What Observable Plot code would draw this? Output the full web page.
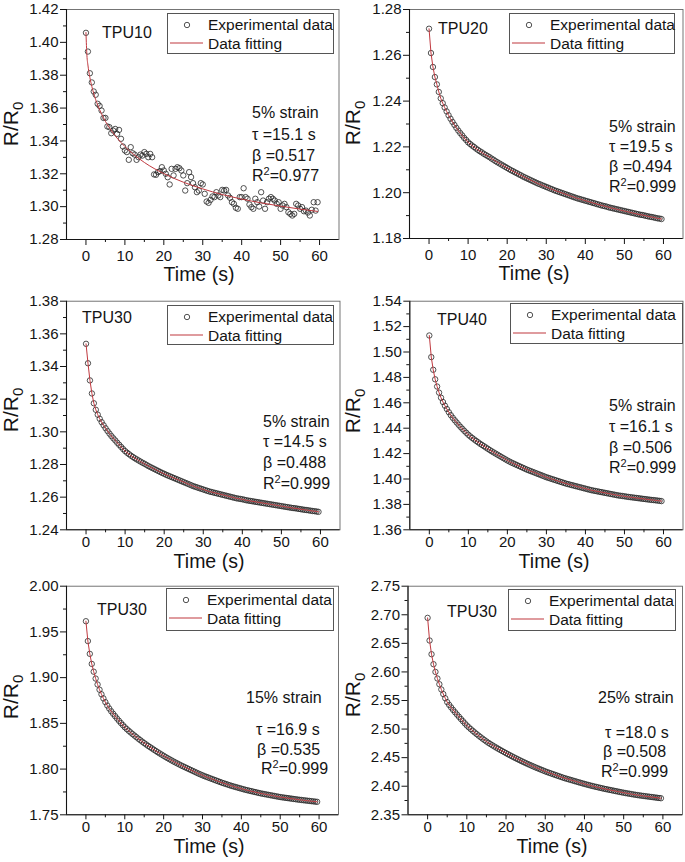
<!DOCTYPE html>
<html><head><meta charset="utf-8">
<script src="https://cdn.jsdelivr.net/npm/d3@7"></script>
<script src="https://cdn.jsdelivr.net/npm/@observablehq/plot@0.6"></script>
<style>
body{margin:0;background:#fff;}
#wrap{position:relative;width:685px;height:862px;overflow:hidden;background:#fff;}
.panel{position:absolute;}
</style></head><body><div id="wrap"></div>
<script>
// ---------------- data ----------------
const time = [0,0.5,1,1.5,2,2.5,3,3.5,4,4.5,5,5.5,6,6.5,7,7.5,8,8.5,9,9.5,10,10.5,11,11.5,12,12.5,13,13.5,14,14.5,15,15.5,16,16.5,17,17.5,18,18.5,19,19.5,20,20.5,21,21.5,22,22.5,23,23.5,24,24.5,25,25.5,26,26.5,27,27.5,28,28.5,29,29.5,30,30.5,31,31.5,32,32.5,33,33.5,34,34.5,35,35.5,36,36.5,37,37.5,38,38.5,39,39.5,40,40.5,41,41.5,42,42.5,43,43.5,44,44.5,45,45.5,46,46.5,47,47.5,48,48.5,49,49.5,50,50.5,51,51.5,52,52.5,53,53.5,54,54.5,55,55.5,56,56.5,57,57.5,58,58.5,59,59.5];

const tpu10Exp = [1.4058,1.3944,1.3812,1.3756,1.3701,1.3681,1.3626,1.3613,1.3585,1.3540,
1.3540,1.3488,1.3484,1.3447,1.3463,1.3473,1.3443,1.3467,1.3413,1.3366,
1.3342,1.3332,1.3285,1.3362,1.3325,1.3317,1.3285,1.3301,1.3317,1.3311,
1.3332,1.3321,1.3301,1.3321,1.3301,1.3196,1.3194,1.3210,1.3216,1.3240,
1.3220,1.3200,1.3179,1.3135,1.3230,1.3190,1.3230,1.3240,1.3234,1.3220,
1.3190,1.3098,1.3143,1.3210,1.3180,1.3143,1.3118,1.3088,1.3098,1.3143,
1.3135,1.3078,1.3031,1.3023,1.3041,1.3062,1.3058,1.3088,1.3068,1.3058,
1.3102,1.3098,1.3102,1.3068,1.3054,1.3027,1.3017,1.2993,1.2987,1.3058,
1.3058,1.3112,1.3058,1.3048,1.3013,1.2997,1.2987,1.3048,1.3027,1.3001,
1.3088,1.3037,1.2987,1.3027,1.3048,1.3058,1.3048,1.3037,1.3017,1.3027,
1.2987,1.3007,1.3017,1.2997,1.2966,1.2956,1.2946,1.2956,1.3017,1.3007,
1.2987,1.2997,1.2972,1.2976,1.2964,1.2946,1.2981,1.3027,1.2976,1.3027];
const tpu10FitTime = [0,0.25,0.5,1,1.5,2,3,4,5,6,8,10,12,15,20,25,30,35,40,45,50,55,59.5];
const tpu10Fit = [1.4060,1.3918,1.3862,1.3787,1.3732,1.3688,1.3619,1.3565,1.3519,1.3481,1.3417,1.3366,1.3323,1.3269,1.3201,1.3149,1.3108,1.3074,1.3046,1.3023,1.3003,1.2985,1.2971];

const tpu20Exp = [1.2716,1.2610,1.2549,1.2505,1.2473,1.2440,1.2412,1.2391,1.2372,1.2355,
1.2338,1.2323,1.2309,1.2296,1.2283,1.2271,1.2260,1.2250,1.2239,1.2230,
1.2220,1.2213,1.2206,1.2200,1.2193,1.2187,1.2181,1.2176,1.2170,1.2165,
1.2160,1.2155,1.2149,1.2144,1.2138,1.2133,1.2128,1.2123,1.2118,1.2113,
1.2108,1.2103,1.2098,1.2094,1.2089,1.2085,1.2080,1.2076,1.2071,1.2067,
1.2063,1.2059,1.2055,1.2051,1.2047,1.2043,1.2039,1.2036,1.2032,1.2029,
1.2025,1.2022,1.2018,1.2015,1.2011,1.2008,1.2005,1.2002,1.1999,1.1996,
1.1993,1.1990,1.1987,1.1984,1.1981,1.1978,1.1975,1.1973,1.1970,1.1968,
1.1965,1.1963,1.1960,1.1958,1.1955,1.1953,1.1950,1.1948,1.1945,1.1943,
1.1941,1.1939,1.1936,1.1934,1.1932,1.1930,1.1928,1.1926,1.1924,1.1922,
1.1920,1.1918,1.1916,1.1914,1.1912,1.1910,1.1908,1.1906,1.1904,1.1903,
1.1901,1.1899,1.1897,1.1895,1.1894,1.1892,1.1890,1.1888,1.1887,1.1885];

const tpu30s5Exp = [1.3539,1.3420,1.3315,1.3235,1.3175,1.3135,1.3105,1.3080,1.3059,1.3040,
1.3022,1.3005,1.2989,1.2974,1.2960,1.2947,1.2933,1.2920,1.2907,1.2894,
1.2882,1.2872,1.2863,1.2854,1.2846,1.2838,1.2831,1.2824,1.2817,1.2810,
1.2804,1.2797,1.2790,1.2784,1.2778,1.2772,1.2766,1.2760,1.2754,1.2748,
1.2743,1.2737,1.2732,1.2727,1.2722,1.2717,1.2712,1.2707,1.2702,1.2697,
1.2692,1.2687,1.2682,1.2677,1.2672,1.2667,1.2663,1.2659,1.2655,1.2651,
1.2647,1.2643,1.2639,1.2635,1.2632,1.2629,1.2626,1.2623,1.2620,1.2617,
1.2614,1.2611,1.2608,1.2605,1.2602,1.2599,1.2596,1.2593,1.2591,1.2589,
1.2587,1.2584,1.2581,1.2579,1.2577,1.2575,1.2573,1.2571,1.2569,1.2567,
1.2565,1.2563,1.2561,1.2559,1.2557,1.2555,1.2553,1.2551,1.2549,1.2547,
1.2545,1.2543,1.2541,1.2539,1.2537,1.2535,1.2533,1.2532,1.2530,1.2528,
1.2526,1.2524,1.2522,1.2521,1.2519,1.2517,1.2515,1.2514,1.2512,1.2510];

const tpu40Exp = [1.5130,1.4960,1.4860,1.4785,1.4728,1.4680,1.4640,1.4606,1.4577,1.4551,
1.4526,1.4503,1.4482,1.4463,1.4445,1.4427,1.4410,1.4394,1.4378,1.4363,
1.4348,1.4335,1.4323,1.4311,1.4300,1.4289,1.4278,1.4268,1.4258,1.4248,
1.4238,1.4228,1.4218,1.4209,1.4200,1.4191,1.4182,1.4173,1.4164,1.4155,
1.4146,1.4138,1.4130,1.4123,1.4116,1.4109,1.4102,1.4095,1.4088,1.4081,
1.4074,1.4068,1.4062,1.4056,1.4050,1.4044,1.4038,1.4032,1.4026,1.4020,
1.4014,1.4009,1.4004,1.3999,1.3994,1.3989,1.3984,1.3979,1.3974,1.3969,
1.3964,1.3960,1.3956,1.3952,1.3948,1.3944,1.3940,1.3936,1.3932,1.3928,
1.3924,1.3920,1.3916,1.3912,1.3909,1.3906,1.3903,1.3900,1.3897,1.3894,
1.3891,1.3888,1.3885,1.3882,1.3879,1.3876,1.3873,1.3870,1.3868,1.3866,
1.3864,1.3861,1.3859,1.3857,1.3855,1.3853,1.3851,1.3849,1.3847,1.3845,
1.3843,1.3841,1.3839,1.3837,1.3835,1.3834,1.3832,1.3830,1.3828,1.3826];

const tpu30s15Exp = [1.9617,1.9400,1.9260,1.9150,1.9065,1.8990,1.8925,1.8868,1.8818,1.8773,
1.8732,1.8695,1.8662,1.8632,1.8605,1.8579,1.8553,1.8528,1.8504,1.8481,
1.8458,1.8438,1.8419,1.8401,1.8383,1.8366,1.8349,1.8332,1.8316,1.8300,
1.8284,1.8269,1.8254,1.8240,1.8226,1.8212,1.8198,1.8184,1.8171,1.8158,
1.8145,1.8132,1.8120,1.8108,1.8096,1.8084,1.8073,1.8062,1.8051,1.8040,
1.8030,1.8020,1.8010,1.8000,1.7990,1.7980,1.7970,1.7960,1.7950,1.7941,
1.7932,1.7923,1.7915,1.7907,1.7899,1.7891,1.7883,1.7875,1.7867,1.7859,
1.7851,1.7844,1.7837,1.7830,1.7823,1.7816,1.7810,1.7804,1.7798,1.7792,
1.7786,1.7780,1.7774,1.7769,1.7764,1.7759,1.7754,1.7749,1.7744,1.7739,
1.7734,1.7730,1.7726,1.7722,1.7718,1.7714,1.7710,1.7706,1.7702,1.7698,
1.7694,1.7691,1.7688,1.7685,1.7682,1.7679,1.7676,1.7673,1.7670,1.7667,
1.7664,1.7662,1.7659,1.7657,1.7654,1.7652,1.7649,1.7647,1.7644,1.7642];

const tpu30s25Exp = [2.6946,2.6550,2.6310,2.6135,2.6000,2.5885,2.5785,2.5693,2.5613,2.5539,
2.5471,2.5423,2.5378,2.5335,2.5294,2.5254,2.5215,2.5176,2.5138,2.5100,
2.5063,2.5031,2.5000,2.4970,2.4941,2.4913,2.4886,2.4859,2.4833,2.4808,
2.4783,2.4760,2.4738,2.4717,2.4696,2.4676,2.4656,2.4636,2.4617,2.4598,
2.4579,2.4560,2.4542,2.4524,2.4506,2.4489,2.4472,2.4455,2.4438,2.4422,
2.4406,2.4390,2.4375,2.4360,2.4345,2.4330,2.4316,2.4302,2.4288,2.4274,
2.4260,2.4247,2.4235,2.4223,2.4211,2.4199,2.4187,2.4175,2.4163,2.4151,
2.4140,2.4130,2.4120,2.4110,2.4100,2.4090,2.4080,2.4070,2.4060,2.4050,
2.4040,2.4031,2.4022,2.4013,2.4004,2.3996,2.3988,2.3980,2.3972,2.3964,
2.3956,2.3949,2.3942,2.3935,2.3928,2.3921,2.3914,2.3907,2.3900,2.3893,
2.3886,2.3880,2.3874,2.3868,2.3862,2.3856,2.3850,2.3845,2.3840,2.3835,
2.3830,2.3826,2.3821,2.3817,2.3812,2.3808,2.3803,2.3799,2.3794,2.3790];

const xDomain = [-5, 65];
const xTicks = [0,10,20,30,40,50,60];
const xMinorTicks = [5,15,25,35,45,55];
const yTicks1 = [1.28,1.30,1.32,1.34,1.36,1.38,1.40,1.42];
const yTicks2 = [1.18,1.20,1.22,1.24,1.26,1.28];
const yTicks3 = [1.24,1.26,1.28,1.30,1.32,1.34,1.36,1.38];
const yTicks4 = [1.36,1.38,1.40,1.42,1.44,1.46,1.48,1.50,1.52,1.54];
const yTicks5 = [1.75,1.80,1.85,1.90,1.95,2.00];
const yTicks6 = [2.35,2.40,2.45,2.50,2.55,2.60,2.65,2.70,2.75];

const sampleNames = ["TPU10","TPU20","TPU30","TPU40","TPU30","TPU30"];
const annotations = [
  ["5% strain","τ =15.1 s","β =0.517","R²=0.977"],
  ["5% strain","τ =19.5 s","β =0.494","R²=0.999"],
  ["5% strain","τ =14.5 s","β =0.488","R²=0.999"],
  ["5% strain","τ =16.1 s","β =0.506","R²=0.999"],
  ["15% strain","τ =16.9 s","β =0.535","R²=0.999"],
  ["25% strain","τ =18.0 s","β =0.508","R²=0.999"]
];
const legendLabels = ["Experimental data","Data fitting"];
const xTitle = "Time (s)";

// ---------------- layout ----------------
const FONT = "'Liberation Sans', Arial, Helvetica, sans-serif";
const RED = "#c0393f";
const INK = "#141414";

const panels = [
  {exp: tpu10Exp, fitT: tpu10FitTime, fit: tpu10Fit, yTicks: yTicks1,
   left:0, top:0, w:342, h:285, ml:66, mr:3.5, mt:9, mb:46, xts:6, xtp:5,
   name:[102,38], annX:[252,252,252,252], annY:[118,140,161,181], xt:[199,281], yt:[17.5,124], leg:[167,13,166,40]},
  {exp: tpu20Exp, yTicks: yTicks2,
   left:342, top:0, w:343, h:285, ml:67, mr:2.5, mt:9, mb:47, xts:6, xtp:5,
   name:[438,33.5], annX:[609,609,609,609], annY:[132,152,172,192], xt:[534,280], yt:[359.5,123], leg:[509,13,165,40]},
  {exp: tpu30s5Exp, yTicks: yTicks3,
   left:0, top:285, w:342, h:285, ml:66, mr:2.5, mt:15.7, mb:40.7, xts:5, xtp:1.5,
   name:[82,323], annX:[263,263,263,263], annY:[427,447,468,489], xt:[209,568], yt:[17.5,410], leg:[167,305,166,39]},
  {exp: tpu40Exp, yTicks: yTicks4,
   left:342, top:285, w:343, h:285, ml:67.3, mr:2.5, mt:15.7, mb:40.7, xts:5, xtp:1.5,
   name:[437,325], annX:[609,609,609,609], annY:[411,432,453,473], xt:[554,568], yt:[359.5,411], leg:[510,303,172,40]},
  {exp: tpu30s15Exp, yTicks: yTicks5,
   left:0, top:570, w:342, h:292, ml:66, mr:4, mt:15.7, mb:47.7, xts:5, xtp:1.5,
   name:[97,615], annX:[246,256,257,261], annY:[703,735,755,774], xt:[209,853], yt:[18,697], leg:[166,588,167,42]},
  {exp: tpu30s25Exp, yTicks: yTicks6,
   left:342, top:570, w:343, h:292, ml:65.5, mr:3, mt:15.7, mb:47.7, xts:5, xtp:1.5,
   name:[447,617], annX:[598,605,603,601], annY:[703,738,757,777], xt:[552,853], yt:[359.5,695], leg:[508,589,167,41]}
];

const wrap = d3.select("#wrap");
const fmt2 = d3.format(".2f");

panels.forEach((p, i) => {
  const rows = time.map((t, k) => ({t, v: p.exp[k]}));
  const fitRows = p.fit ? p.fitT.map((t, k) => ({t, v: p.fit[k]})) : rows;
  const yDomain = [p.yTicks[0], p.yTicks[p.yTicks.length - 1]];
  const yMinor = p.yTicks.slice(1).map((d, k) => (d + p.yTicks[k]) / 2);
  const chart = Plot.plot({
    width: p.w, height: p.h,
    marginLeft: p.ml, marginRight: p.mr, marginTop: p.mt, marginBottom: p.mb,
    style: {fontFamily: FONT, fontSize: "15px", color: INK, background: "transparent", overflow: "visible"},
    x: {domain: xDomain},
    y: {domain: yDomain},
    marks: [
      Plot.frame({stroke: "#666", strokeWidth: 0.9}),
      Plot.ruleX([xDomain[0]], {stroke: INK, strokeWidth: 1.1}),
      Plot.ruleY([yDomain[0]], {stroke: INK, strokeWidth: 1.1}),
      Plot.axisX({ticks: xTicks, tickSize: p.xts, tickPadding: p.xtp, tickFormat: d => String(d), label: null, fontSize: 15}),
      Plot.axisX({ticks: xMinorTicks, tickSize: 3, tickFormat: () => "", label: null}),
      Plot.axisY({ticks: p.yTicks, tickSize: 6, tickPadding: 2, tickFormat: fmt2, label: null, fontSize: 15}),
      Plot.axisY({ticks: yMinor, tickSize: 3, tickFormat: () => "", label: null}),
      Plot.dot(rows, {x: "t", y: "v", r: 2.7, stroke: "#262626", strokeWidth: 0.8, fill: "none"}),
      Plot.line(fitRows, {x: "t", y: "v", stroke: RED, strokeWidth: 1, curve: p.fit ? "monotone-x" : "linear"})
    ]
  });
  d3.select(chart).attr("class", "panel").style("left", p.left + "px").style("top", p.top + "px");
  wrap.node().appendChild(chart);
});

// ---------------- overlay text / legends ----------------
const ov = wrap.append("svg")
  .attr("width", 685).attr("height", 862)
  .style("position", "absolute").style("left", "0px").style("top", "0px")
  .style("font-family", FONT).attr("fill", INK);

panels.forEach((p, i) => {
  ov.append("text").attr("x", p.name[0]).attr("y", p.name[1]).attr("font-size", 16).text(sampleNames[i]);
  annotations[i].forEach((line, k) => {
    const t = ov.append("text").attr("x", p.annX[k]).attr("y", p.annY[k]).attr("font-size", 16);
    if (line.includes("²")) {
      const parts = line.split("²");
      t.append("tspan").text(parts[0]);
      t.append("tspan").attr("dy", -6).attr("font-size", 11).text("2");
      t.append("tspan").attr("dy", 6).text(parts[1]);
    } else {
      t.text(line);
    }
  });
  ov.append("text").attr("x", p.xt[0]).attr("y", p.xt[1]).attr("text-anchor", "middle")
    .attr("font-size", 19.5).text(xTitle);
  const yt = ov.append("text").attr("text-anchor", "middle").attr("font-size", 21)
    .attr("transform", `translate(${p.yt[0]},${p.yt[1]}) rotate(-90)`);
  yt.append("tspan").text("R/R");
  yt.append("tspan").attr("dy", 5).attr("font-size", 15).text("0");
  const [lx, ly, lw, lh] = p.leg;
  ov.append("rect").attr("x", lx + 0.5).attr("y", ly + 0.5).attr("width", lw).attr("height", lh)
    .attr("fill", "#fff").attr("stroke", "#555").attr("stroke-width", 1);
  ov.append("circle").attr("cx", lx + 20).attr("cy", ly + 12).attr("r", 2.7)
    .attr("fill", "none").attr("stroke", "#262626").attr("stroke-width", 0.8);
  ov.append("text").attr("x", lx + 41).attr("y", ly + 16.5).attr("font-size", 15.5).text(legendLabels[0]);
  ov.append("line").attr("x1", lx + 3).attr("x2", lx + 36).attr("y1", ly + 30).attr("y2", ly + 30)
    .attr("stroke", RED).attr("stroke-width", 1.1);
  ov.append("text").attr("x", lx + 41).attr("y", ly + 35.5).attr("font-size", 15.5).text(legendLabels[1]);
});
</script>
</body></html>
